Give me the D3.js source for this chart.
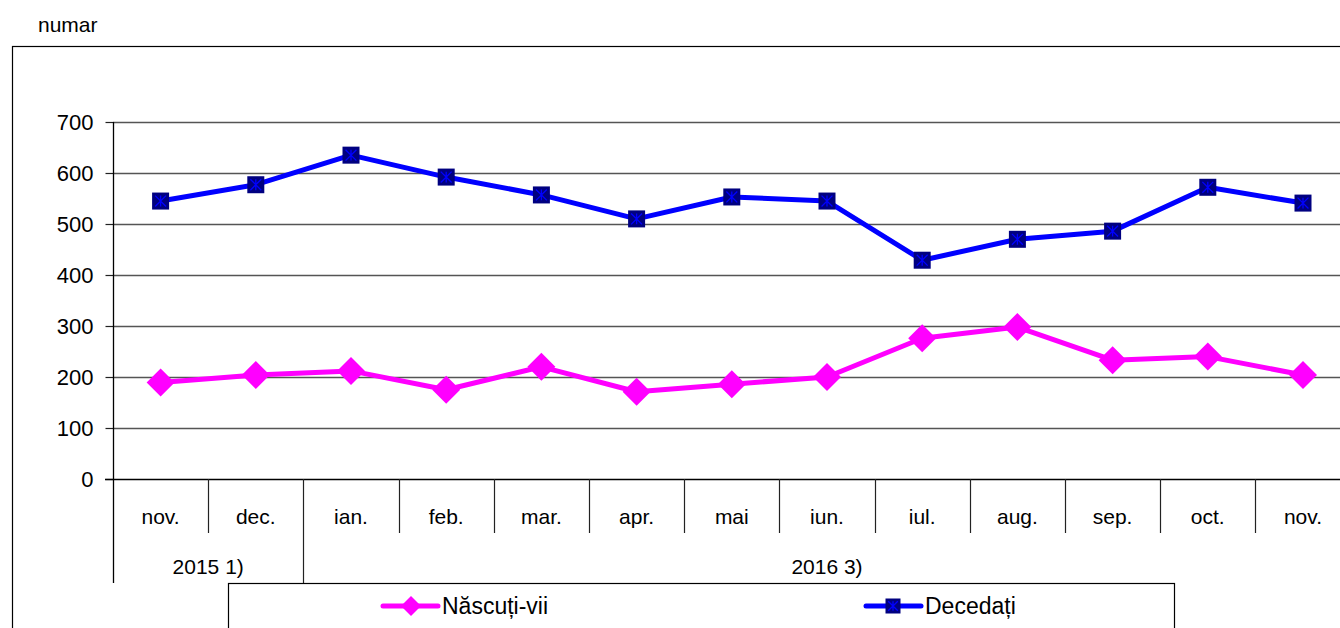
<!DOCTYPE html>
<html>
<head>
<meta charset="utf-8">
<script src="https://cdn.jsdelivr.net/npm/d3@7"></script>
<style>
  body { margin: 0; background: #fff; }
  svg { display: block; font-family: "Liberation Sans", Arial, sans-serif; }
</style>
</head>
<body>
<div id="chart"></div>
<script>
// data
const months = ["nov.", "dec.", "ian.", "feb.", "mar.", "apr.", "mai", "iun.", "iul.", "aug.", "sep.", "oct.", "nov."];
const years = [{label: "2015 1)", from: 0, to: 2}, {label: "2016 3)", from: 2, to: 13}];
const nascuti = [189, 204, 212, 175, 220, 171, 186, 200, 276, 298, 233, 240, 204];
const decedati = [545, 577, 635, 592, 557, 510, 553, 545, 429, 470, 486, 572, 541];
const yTicks = [0, 100, 200, 300, 400, 500, 600, 700];

const W = 1340, H = 628;
const margin = {left: 113, top: 122, bottom: 479};
const plotW = 95.2 * months.length;

const svg = d3.select("#chart").append("svg")
    .attr("width", W).attr("height", H);

// outer frame
svg.append("rect")
    .attr("x", 12.5).attr("y", 46.5)
    .attr("width", W).attr("height", H)
    .attr("fill", "none").attr("stroke", "#000").attr("stroke-width", 1.2);

svg.append("text")
    .attr("x", 38).attr("y", 32)
    .style("font-size", "21px")
    .text("numar");

const x = d3.scaleBand()
    .domain(d3.range(months.length))
    .range([margin.left, margin.left + plotW])
    .padding(0);

const y = d3.scaleLinear()
    .domain([0, 700])
    .range([margin.bottom, margin.top]);

// gridlines
svg.append("g")
    .selectAll("line")
    .data(yTicks.filter(d => d > 0))
    .join("line")
    .attr("x1", margin.left).attr("x2", margin.left + plotW)
    .attr("y1", d => y(d) + 0.5).attr("y2", d => y(d) + 0.5)
    .attr("stroke", "#555").attr("stroke-width", 1.3);

// y axis
const yAxis = svg.append("g")
    .attr("transform", "translate(" + (margin.left + 0.5) + ",0)")
    .call(d3.axisLeft(y).tickValues(yTicks).tickSize(8).tickPadding(12));
yAxis.select(".domain").remove();
yAxis.selectAll(".tick line").attr("stroke", "#222").attr("stroke-width", 1.2);
yAxis.selectAll("text")
    .style("font-size", "22px")
    .style("font-family", "'Liberation Sans', Arial, sans-serif")
    .attr("fill", "#000");

// vertical axis line, extended down through the category table
svg.append("line")
    .attr("x1", margin.left + 0.5).attr("x2", margin.left + 0.5)
    .attr("y1", margin.top).attr("y2", 583)
    .attr("stroke", "#000").attr("stroke-width", 1.3);

// bottom axis line
svg.append("line")
    .attr("x1", margin.left - 8).attr("x2", margin.left + plotW)
    .attr("y1", margin.bottom + 0.5).attr("y2", margin.bottom + 0.5)
    .attr("stroke", "#000").attr("stroke-width", 1.3);

// category separators
const yearStarts = years.map(d => d.from).filter(d => d > 0);
svg.append("g")
    .selectAll("line")
    .data(d3.range(1, months.length))
    .join("line")
    .attr("x1", d => Math.round(x(d)) + 0.5).attr("x2", d => Math.round(x(d)) + 0.5)
    .attr("y1", margin.bottom)
    .attr("y2", d => yearStarts.includes(d) ? 583 : 533)
    .attr("stroke", "#222").attr("stroke-width", 1.2);

// month labels
svg.append("g")
    .selectAll("text")
    .data(months)
    .join("text")
    .attr("x", (d, i) => x(i) + x.bandwidth() / 2)
    .attr("y", 524)
    .attr("text-anchor", "middle")
    .style("font-size", "21px")
    .text(d => d);

// year labels
svg.append("g")
    .selectAll("text")
    .data(years)
    .join("text")
    .attr("x", d => (x(d.from) + x(d.to - 1) + x.bandwidth()) / 2)
    .attr("y", 574)
    .attr("text-anchor", "middle")
    .style("font-size", "21px")
    .text(d => d.label);

// lines
const line = d3.line()
    .x((d, i) => x(i) + x.bandwidth() / 2)
    .y(d => y(d));

svg.append("path")
    .datum(nascuti)
    .attr("d", line)
    .attr("fill", "none").attr("stroke", "#FF00FF").attr("stroke-width", 5)
    .attr("stroke-linejoin", "round");

svg.append("path")
    .datum(decedati)
    .attr("d", line)
    .attr("fill", "none").attr("stroke", "#0000FF").attr("stroke-width", 5)
    .attr("stroke-linejoin", "round");

function diamond(g, cx, cy, r) {
    g.append("path")
        .attr("d", "M" + cx + "," + (cy - r) + "L" + (cx + r) + "," + cy +
              "L" + cx + "," + (cy + r) + "L" + (cx - r) + "," + cy + "Z")
        .attr("fill", "#FF00FF");
}

function squareStar(g, cx, cy, s) {
    g.append("rect")
        .attr("x", cx - s / 2).attr("y", cy - s / 2)
        .attr("width", s).attr("height", s)
        .attr("fill", "#000080");
    const a = s * 0.32;
    g.append("path")
        .attr("d", "M" + cx + "," + (cy - a) + "V" + (cy + a) +
              "M" + (cx - a) + "," + (cy - a) + "L" + (cx + a) + "," + (cy + a) +
              "M" + (cx + a) + "," + (cy - a) + "L" + (cx - a) + "," + (cy + a))
        .attr("stroke", "#0000FF").attr("stroke-width", 1.3).attr("fill", "none");
}

const markN = svg.append("g");
nascuti.forEach((d, i) => diamond(markN, x(i) + x.bandwidth() / 2, y(d), 14));
const markD = svg.append("g");
decedati.forEach((d, i) => squareStar(markD, x(i) + x.bandwidth() / 2, y(d), 17));

// legend box
svg.append("rect")
    .attr("x", 228.5).attr("y", 583.5)
    .attr("width", 946).attr("height", 80)
    .attr("fill", "#fff").attr("stroke", "#000").attr("stroke-width", 1.2);

const legend = [
    {name: "Născuți-vii", x: 383, kind: "n"},
    {name: "Decedați", x: 866, kind: "d"}
];
legend.forEach(l => {
    const g = svg.append("g");
    const ly = 606;
    g.append("line")
        .attr("x1", l.x).attr("x2", l.x + 55)
        .attr("y1", ly).attr("y2", ly)
        .attr("stroke", l.kind === "n" ? "#FF00FF" : "#0000FF")
        .attr("stroke-width", 5).attr("stroke-linecap", "round");
    if (l.kind === "n") diamond(g, l.x + 28, ly, 10);
    else squareStar(g, l.x + 27, ly, 15);
    g.append("text")
        .attr("x", l.x + 59).attr("y", ly + 8)
        .style("font-size", "23px")
        .text(l.name);
});
</script>
</body>
</html>
